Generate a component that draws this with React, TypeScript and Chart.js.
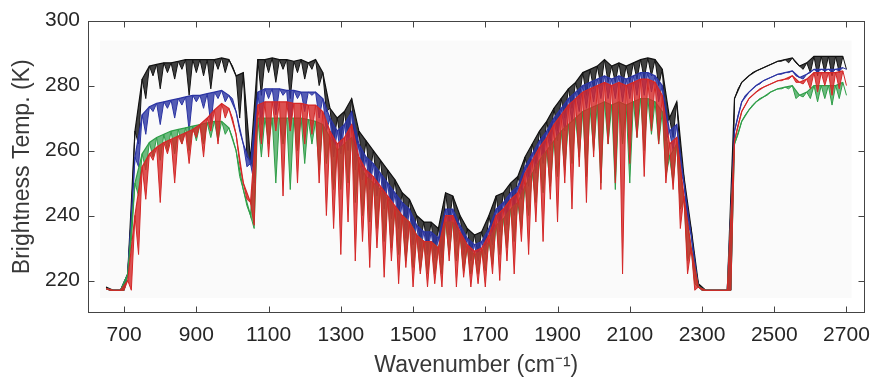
import React, { useEffect, useRef } from "react";
import { Chart, registerables } from "chart.js";

Chart.register(...registerables);

// Wavenumbers (cm^-1) of the envelope-top samples and of the absorption-line samples
const topWavenumbers = [
  650, 670, 690, 710, 730, 750, 770, 790, 810, 830,
  850, 870, 890, 910, 930, 950, 970, 990, 1010, 1030,
  1050, 1070, 1090, 1110, 1130, 1150, 1170, 1190, 1210, 1230,
  1250, 1270, 1290, 1310, 1330, 1350, 1370, 1390, 1410, 1430,
  1450, 1470, 1490, 1510, 1530, 1550, 1570, 1590, 1610, 1630,
  1650, 1670, 1690, 1710, 1730, 1750, 1770, 1790, 1810, 1830,
  1850, 1870, 1890, 1910, 1930, 1950, 1970, 1990, 2010, 2030,
  2050, 2070, 2090, 2110, 2130, 2150, 2170, 2190, 2210, 2230,
  2250, 2270, 2290, 2310, 2330, 2350, 2370, 2390, 2410, 2430,
  2450, 2470, 2490, 2510, 2530, 2550, 2570, 2590, 2610, 2630,
  2650, 2670, 2690,
];
const lineWavenumbers = [
  660, 680, 700, 720, 740, 760, 780, 800, 820, 840,
  860, 880, 900, 920, 940, 960, 980, 1000, 1020, 1040,
  1060, 1080, 1100, 1120, 1140, 1160, 1180, 1200, 1220, 1240,
  1260, 1280, 1300, 1320, 1340, 1360, 1380, 1400, 1420, 1440,
  1460, 1480, 1500, 1520, 1540, 1560, 1580, 1600, 1620, 1640,
  1660, 1680, 1700, 1720, 1740, 1760, 1780, 1800, 1820, 1840,
  1860, 1880, 1900, 1920, 1940, 1960, 1980, 2000, 2020, 2040,
  2060, 2080, 2100, 2120, 2140, 2160, 2180, 2200, 2220, 2240,
  2260, 2280, 2300, 2320, 2340, 2360, 2380, 2400, 2420, 2440,
  2460, 2480, 2500, 2520, 2540, 2560, 2580, 2600, 2620, 2640,
  2660, 2680, 2700,
];

// Black spectrum
const blackTop = [
  218, 217, 217, 222, 266, 282, 286, 286.5, 287, 287,
  287.5, 288, 288, 288, 288, 288, 288.5, 288, 283, 284,
  257, 288, 288, 288.5, 288, 288, 287.5, 288, 287, 288,
  284, 273, 270, 272, 276, 266, 263, 260, 257, 254,
  251, 247, 245, 240, 238, 238, 236, 247, 246, 240,
  236, 234, 235, 240, 246, 247, 250, 252, 258, 262,
  266, 269, 273, 276, 279, 281, 284, 285, 286, 288,
  286, 287, 286, 287, 288, 288.5, 288, 285, 270, 275,
  252, 236, 219, 217, 217, 217, 217, 276, 281, 283,
  284.5, 285.5, 286.5, 287.5, 288, 288.5, 286, 287, 289, 289,
  289, 289, 289,
];
const blackLines = [
  217, 217, 217, 240, 262, 276, 283, 279, 284, 282,
  285, 277, 284, 283, 279, 285, 284, 286, 270, 258,
  254, 277, 284, 281, 285, 276, 284, 282, 285, 280,
  272, 262, 263, 264, 258, 255, 252, 250, 246, 243,
  240, 237, 234, 232, 230, 229, 229, 238, 235, 230,
  228, 228, 230, 234, 238, 240, 243, 248, 252, 256,
  259, 263, 266, 270, 273, 276, 277, 279, 280, 281,
  281, 280, 281, 282, 282, 283, 280, 268, 264, 258,
  240, 225, 217, 217, 217, 217, 217, 279, 282, 284,
  285, 286, 287, 287.5, 287, 287, 285, 284, 283, 284,
  283, 284, 285,
];

// Blue spectrum
const blueTop = [
  217.5, 217, 217, 222, 258, 271, 273.5, 274.5, 275, 275.5,
  276, 276.5, 277, 277, 277.5, 278, 278.5, 277, 272, 262,
  256, 278, 279, 279, 279, 278.5, 278.5, 278, 278, 278,
  276, 270, 266, 268, 272, 262, 258, 256, 253, 250,
  247, 244, 242, 237, 235, 235, 233, 242, 242, 237,
  233, 231, 232, 236, 242, 244, 247, 249, 255, 259,
  263, 266, 270, 273, 276, 278, 280, 281, 282, 283,
  282, 283, 282, 283, 284, 284, 283, 280, 266, 268,
  250, 234, 218, 217, 217, 217, 217, 266, 275, 278,
  280, 281.5, 282.5, 283.5, 284, 284.5, 282.5, 283.5, 285, 285,
  285, 285, 285.5,
];
const blueLines = [
  217, 217, 217, 238, 255, 265, 272, 268, 273, 270,
  274, 266, 275, 273, 268, 276, 275, 276, 266, 255,
  250, 268, 276, 271, 277, 266, 276, 272, 277, 270,
  266, 258, 259, 260, 254, 251, 248, 246, 242, 239,
  236, 233, 231, 229, 228, 227, 227, 234, 232, 228,
  226, 226, 228, 231, 235, 237, 240, 245, 249, 253,
  256, 260, 263, 266, 269, 272, 273, 275, 276, 276,
  276, 275, 276, 277, 277, 278, 275, 263, 260, 254,
  238, 223, 217, 217, 217, 217, 217, 271, 277, 279,
  280.5, 282, 283, 283.5, 284, 283, 282, 284, 284, 284.5,
  284, 284.5, 285,
];

// Green spectrum
const greenTop = [
  217.5, 217, 217, 222, 250, 259, 262.5, 264, 265, 266,
  266.5, 267, 267.5, 268, 268.5, 269, 269, 267, 260, 248,
  240, 270, 270, 270, 270, 270, 270, 270, 269.5, 269,
  268, 264, 260, 262, 264, 256, 252, 250, 248, 245,
  242, 240, 238, 234, 232, 232, 230, 238, 238, 234,
  230, 228, 229, 232, 237, 239, 242, 244, 249, 253,
  257, 260, 263, 266, 268, 270, 272, 273, 274, 275,
  274, 275, 274, 275, 276, 276, 275, 272, 258, 262,
  245, 230, 218, 217, 217, 217, 217, 262, 269, 272.5,
  275, 276.5, 278, 279, 279.5, 280, 277, 278, 280, 280,
  280, 280, 281,
];
const greenLines = [
  217, 217, 217, 232, 246, 254, 258, 257, 260, 259,
  262, 260, 263, 262, 264, 263, 265, 264, 252, 243,
  236, 258, 262, 250, 262, 248, 260, 256, 262, 254,
  256, 248, 248, 250, 244, 240, 238, 236, 232, 230,
  228, 226, 224, 223, 222, 222, 222, 228, 226, 223,
  222, 222, 223, 225, 228, 230, 232, 236, 240, 244,
  247, 249, 252, 254, 256, 258, 252, 260, 250, 262,
  248, 262, 250, 264, 260, 265, 262, 252, 250, 242,
  226, 219, 217, 217, 217, 217, 217, 265, 271, 274,
  276, 277, 278.5, 279, 279, 276, 276.5, 276, 275, 276,
  274, 276, 277,
];

// Red spectrum
const redTop = [
  217.5, 217, 217, 220, 240, 255, 259, 261, 262.5, 263.5,
  264.5, 265.5, 266.5, 268, 270, 272.5, 274.5, 273, 265, 250,
  244, 274, 275, 275, 275, 275, 274.5, 274.5, 274, 274,
  272, 266, 262, 264, 268, 258, 254, 252, 249, 246,
  243, 240, 238, 234, 232, 232, 230, 240, 240, 235,
  231, 229, 230, 234, 240, 242, 245, 247, 253, 257,
  261, 264, 268, 271, 274, 276, 278, 279, 280, 281,
  280, 281, 280, 281, 282, 282, 281, 277, 262, 264,
  246, 230, 218, 217, 217, 217, 217, 263, 272, 276,
  278, 279.5, 280.5, 281.5, 282, 283, 281, 282, 284, 284,
  284, 284, 284.5,
];
const redLines = [
  217, 217, 217, 217, 228, 245, 257, 244, 259, 250,
  262, 256, 264, 258, 266, 262, 270, 270, 256, 245,
  237, 262, 258, 266, 246, 266, 250, 262, 265, 250,
  240, 236, 228, 238, 226, 232, 224, 230, 221, 226,
  219, 224, 218, 222, 218, 219, 218, 226, 218, 221,
  218, 219, 218, 222, 220, 226, 222, 232, 228, 238,
  232, 245, 238, 250, 242, 255, 244, 258, 248, 262,
  250, 222, 256, 264, 252, 266, 262, 250, 248, 236,
  222, 217, 217, 217, 217, 217, 217, 268, 274, 277,
  279, 280, 281, 281.5, 282, 281, 280.5, 279, 278, 280,
  277, 279, 280,
];

const xTickValues = [700, 900, 1100, 1300, 1500, 1700, 1900, 2100, 2300, 2500, 2700];
const yTickValues = [220, 240, 260, 280, 300];

function interleave(top: number[], lines: number[]) {
  const pts: { x: number; y: number }[] = [];
  for (let i = 0; i < top.length; i++) {
    pts.push({ x: topWavenumbers[i], y: top[i] });
    pts.push({ x: lineWavenumbers[i], y: lines[i] });
  }
  return pts;
}

function envelope(top: number[]) {
  return top.map((y, i) => ({ x: topWavenumbers[i], y }));
}

const framePlugin = {
  id: "frame",
  beforeDatasetsDraw(chart: any) {
    const { ctx, chartArea: a } = chart;
    ctx.save();
    ctx.fillStyle = "#fafafa";
    ctx.fillRect(a.left + 12, a.top + 20, a.width - 25, a.height - 35);
    ctx.restore();
  },
  afterDraw(chart: any) {
    const { ctx, chartArea: a, scales } = chart;
    ctx.save();
    ctx.strokeStyle = "#444";
    ctx.lineWidth = 1;
    const L = Math.round(a.left) + 0.5;
    const R = Math.round(a.right) - 0.5;
    const T = Math.round(a.top) + 0.5;
    const B = Math.round(a.bottom) - 0.5;
    ctx.strokeRect(L, T, R - L, B - T);
    ctx.beginPath();
    for (const v of xTickValues) {
      const px = Math.round(scales.x.getPixelForValue(v)) + 0.5;
      ctx.moveTo(px, B);
      ctx.lineTo(px, B - 6);
      ctx.moveTo(px, T);
      ctx.lineTo(px, T + 6);
    }
    for (const v of yTickValues) {
      const py = Math.round(scales.y.getPixelForValue(v)) + 0.5;
      ctx.moveTo(L, py);
      ctx.lineTo(L + 6, py);
      ctx.moveTo(R, py);
      ctx.lineTo(R - 6, py);
    }
    ctx.stroke();
    ctx.restore();
  },
};

export default function App() {
  const ref = useRef<HTMLCanvasElement | null>(null);
  useEffect(() => {
    document.body.style.margin = "0";
    const canvas = ref.current!;
    const pair = (name: string, color: string, fillColor: string, top: number[], lines: number[]) => [
      {
        label: name + " envelope",
        data: envelope(top),
        borderColor: color,
        backgroundColor: color,
        borderWidth: 1.2,
        pointRadius: 0,
        tension: 0,
        fill: false,
      },
      {
        label: name,
        data: interleave(top, lines),
        borderColor: color,
        backgroundColor: fillColor,
        borderWidth: 1,
        pointRadius: 0,
        tension: 0,
        fill: "-1",
      },
    ];
    const chart = new Chart(canvas, {
      type: "line",
      data: {
        datasets: [
          ...pair("red", "#d42727", "rgba(212,39,39,0.8)", redTop, redLines),
          ...pair("green", "#2f9e48", "rgba(47,158,72,0.7)", greenTop, greenLines),
          ...pair("blue", "#2b34a3", "rgba(43,52,163,0.8)", blueTop, blueLines),
          ...pair("black", "#121212", "rgba(18,18,18,0.8)", blackTop, blackLines),
        ],
      },
      options: {
        animation: false,
        responsive: false,
        devicePixelRatio: 1,
        layout: { padding: { top: 19, right: 7, left: 0, bottom: 0 } },
        plugins: { legend: { display: false }, tooltip: { enabled: false } },
        scales: {
          x: {
            type: "linear",
            min: 600,
            max: 2750,
            grid: { display: false, drawTicks: false },
            border: { display: false },
            afterBuildTicks: (s: any) => {
              s.ticks = xTickValues.map((v) => ({ value: v }));
            },
            afterFit: (s: any) => {
              s.height = 66;
            },
            ticks: {
              padding: 10,
              color: "#262626",
              font: { family: "Liberation Sans", size: 21 },
              maxRotation: 0,
              autoSkip: false,
              callback: (v: any) => String(v),
            },
            title: {
              display: true,
              text: "Wavenumber (cm\u207B\u00B9)",
              color: "#383838",
              font: { family: "Liberation Sans", size: 23 },
              padding: { top: 0, bottom: 0 },
            },
          },
          y: {
            type: "linear",
            min: 210,
            max: 300,
            grid: { display: false, drawTicks: false },
            border: { display: false },
            afterBuildTicks: (s: any) => {
              s.ticks = yTickValues.map((v) => ({ value: v }));
            },
            afterFit: (s: any) => {
              s.width = 88;
            },
            ticks: {
              padding: 8,
              color: "#262626",
              font: { family: "Liberation Sans", size: 21 },
              callback: (v: any) => String(v),
            },
            title: {
              display: true,
              text: "Brightness Temp. (K)",
              color: "#383838",
              font: { family: "Liberation Sans", size: 23 },
              padding: { top: 9, bottom: 0 },
            },
          },
        },
      },
      plugins: [framePlugin],
    });
    return () => chart.destroy();
  }, []);
  return (
    <div style={{ width: 880, height: 379 }}>
      <canvas ref={ref} width={880} height={379} />
    </div>
  );
}
